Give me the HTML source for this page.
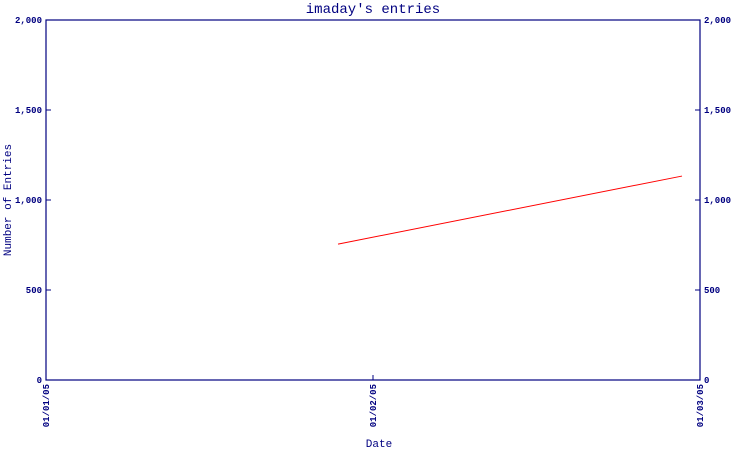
<!DOCTYPE html>
<html><head><meta charset="utf-8"><style>
body{margin:0;background:#fff;}
svg text{font-family:"Liberation Mono","DejaVu Sans Mono",monospace;fill:#000080;}
</style></head><body>
<svg id="chart" width="750" height="450" xmlns="http://www.w3.org/2000/svg">
<rect width="750" height="450" fill="#fff"/>
<text x="373" y="13" font-size="14" text-anchor="middle">imaday's entries</text>
<text x="379" y="447" font-size="11" text-anchor="middle">Date</text>
<text transform="translate(11,200) rotate(-90)" font-size="11" text-anchor="middle">Number of Entries</text>
<g id="axes"></g>
<g id="series"></g>
</svg>
<script>
const xTickLabels = ["01/01/05", "01/02/05", "01/03/05"];
const yTicks = [0, 500, 1000, 1500, 2000];
const seriesX = [0.893, 1.945];
const seriesY = [755, 1133];

const L = 46, R = 700, T = 20, B = 380;
const NS = "http://www.w3.org/2000/svg";
const xScale = v => L + (v / (xTickLabels.length - 1)) * (R - L);
const yScale = v => B - (v / 2000) * (B - T);
const axes = document.getElementById('axes');
const series = document.getElementById('series');
function mk(tag, attrs, parent) {
  const e = document.createElementNS(NS, tag);
  for (const k in attrs) e.setAttribute(k, attrs[k]);
  parent.appendChild(e);
  return e;
}
const frame = mk('rect', {x: L, y: T, width: R - L, height: B - T, fill: 'none', stroke: '#000080', 'stroke-width': 1.2}, axes);


const fmt = v => v.toLocaleString('en-US');
yTicks.forEach(v => {
  const y = yScale(v);
  const t1 = mk('line', {x1: L, x2: L + 5, y1: y, y2: y, stroke: '#000080'}, axes);
  
  
  const t2 = mk('line', {x1: R - 5, x2: R, y1: y, y2: y, stroke: '#000080'}, axes);
  
  
  const a = mk('text', {x: L - 4, y: y + 3, 'font-size': 9, 'text-anchor': 'end', 'font-weight': 'bold'}, axes);
  a.textContent = fmt(v);
  
  
  const b = mk('text', {x: R + 4, y: y + 3, 'font-size': 9, 'text-anchor': 'start', 'font-weight': 'bold'}, axes);
  b.textContent = fmt(v);
  
  
});
xTickLabels.forEach((lab, i) => {
  const x = xScale(i);
  const t = mk('line', {x1: x, x2: x, y1: B - 5, y2: B, stroke: '#000080'}, axes);
  
  
  const tx = mk('text', {transform: `translate(${x + 3},${B + 4}) rotate(-90)`, 'font-size': 9, 'text-anchor': 'end', 'font-weight': 'bold'}, axes);
  tx.textContent = lab;
  
  
});
const pts = seriesX.map((x, i) => xScale(x) + ',' + yScale(seriesY[i])).join(' ');
const line = mk('polyline', {points: pts, fill: 'none', stroke: '#ff0000', 'stroke-width': 1}, series);


</script>
</body></html>
